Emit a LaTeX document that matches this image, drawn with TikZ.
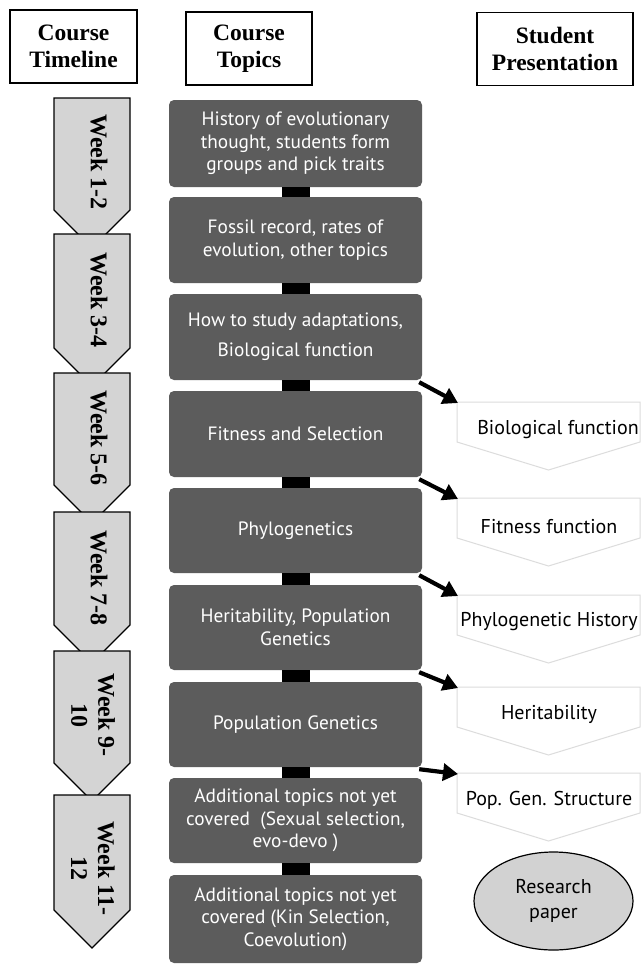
\documentclass[tikz,border=0pt]{standalone}
\usepackage{fontspec}
\setmainfont{Liberation Serif}
\newfontfamily\topicfont{PT Sans}
\usetikzlibrary{arrows.meta,shapes.geometric}
\definecolor{topicgray}{HTML}{5C5C5C}
\definecolor{weekgray}{HTML}{D4D4D4}
\definecolor{paperfill}{HTML}{D2D2D2}
\definecolor{presline}{HTML}{DCDCDC}
\begin{document}
\begin{tikzpicture}[x=1pt,y=-1pt,
  hdr/.style={draw=black, line width=1.8pt, fill=white, minimum height=73pt,
    align=center, inner sep=0pt, font=\fontsize{23.5}{27}\selectfont\bfseries},
  topic/.style={fill=topicgray, rounded corners=5pt, minimum width=253pt,
    minimum height=86pt, text=white, align=center, inner sep=0pt,
    font=\topicfont\fontsize{19.3}{22.5}\selectfont},
  weekbox/.style={draw=black, line width=1.3pt, fill=weekgray},
  weektext/.style={rotate=-90, align=center, inner sep=0pt,
    font=\fontsize{24}{27}\selectfont\bfseries},
  presbox/.style={draw=presline, line width=1pt, fill=white},
  prestext/.style={inner sep=0pt, font=\topicfont\fontsize{20}{24}\selectfont},
  linkbar/.style={fill=black},
  pointer/.style={line width=4.2pt, -{Triangle[length=15pt,width=17pt]}}]
\useasboundingbox (0,0) rectangle (641,969);
\fill[white] (0,0) rectangle (641,969);

% headers
\node[hdr, minimum width=127pt] (h1) at (73.5,46.5) {Course\\Timeline};
\node[hdr, minimum width=126pt] (h2) at (249,48.5) {Course\\Topics};
\node[hdr, minimum width=156pt] (h3) at (555,49) {Student\\Presentation};

% timeline chevrons
\foreach \t/\b in {98/112, 234/114, 373/112, 512/113, 651/112, 795/115}{
  \draw[weekbox] (54,\t) -- (130,\t) -- (130,\t+\b) -- (92,\t+\b+38) -- (54,\t+\b) -- cycle;
}
\node[weektext] (w1) at (99,162) {Week 1-2};
\node[weektext] (w2) at (99,300) {Week 3-4};
\node[weektext] (w3) at (99,438) {Week 5-6};
\node[weektext] (w4) at (99,578) {Week 7-8};
\node[weektext] (w5) at (93,715) {Week 9-\\10};
\node[weektext] (w6) at (93,868) {Week 11-\\12};

% topics
\node[topic, minimum height=87pt] (t1) at (295.5,143.5) {History of evolutionary\\thought, students form\\groups and pick traits};
\node[topic] (t2) at (295.5,240) {Fossil record, rates of\\evolution, other topics};
\node[topic, font=\topicfont\fontsize{19.3}{30}\selectfont] (t3) at (295.5,337) {How to study adaptations,\\Biological function};
\node[topic] (t4) at (295.5,434) {Fitness and Selection};
\node[topic, minimum height=85pt] (t5) at (295.5,530.5) {Phylogenetics};
\node[topic, minimum height=85pt] (t6) at (295.5,627.5) {Heritability, Population\\Genetics};
\node[topic, minimum height=85pt] (t7) at (295.5,724.5) {Population Genetics};
\node[topic, minimum height=85pt] (t8) at (295.5,820.5) {Additional topics not yet\\covered\ \ (Sexual selection,\\evo-devo\ )};
\node[topic, minimum height=88pt] (t9) at (295.5,919) {Additional topics not yet\\covered (Kin Selection,\\Coevolution)};

% links between topics
\foreach \a/\c in {t1/t2, t2/t3, t3/t4, t4/t5, t5/t6, t6/t7, t7/t8, t8/t9}{
  \fill[linkbar] ([xshift=-13.5pt]\a.south) rectangle ([xshift=14.5pt]\c.north);
}

% presentation shapes
\foreach \T in {402,498,595,687,773}{
  \draw[presbox] (457,\T) -- (640,\T) -- (640,\T+40) -- (548.5,\T+68) -- (457,\T+40) -- cycle;
}
\coordinate (p1) at (458,403);
\coordinate (p2) at (458,499);
\coordinate (p3) at (458,596);
\coordinate (p4) at (458,688);
\coordinate (p5) at (458,774);
\node[prestext] (s1) at (558,430) {Biological function};
\node[prestext] (s2) at (549,527) {Fitness function};
\node[prestext] (s3) at (549,622) {Phylogenetic History};
\node[prestext] (s4) at (549,714) {Heritability};
\node[prestext] (s5) at (549,800) {Pop. Gen. Structure};

\node[ellipse, draw=black, line width=1.2pt, fill=paperfill, minimum width=159pt,
  minimum height=98pt, align=center, inner sep=0pt,
  font=\topicfont\fontsize{20}{25}\selectfont] (rp) at (553.5,901) {Research\\paper};

% arrows
\draw[pointer] ([xshift=-3pt,yshift=-2pt]t3.south east) -- (p1);
\draw[pointer] ([xshift=-3pt,yshift=-2pt]t4.south east) -- (p2);
\draw[pointer] ([xshift=-3pt,yshift=-2pt]t5.south east) -- (p3);
\draw[pointer] ([xshift=-3pt,yshift=-2pt]t6.south east) -- (p4);
\draw[pointer] ([xshift=-3pt,yshift=-2pt]t7.south east) -- (p5);
\end{tikzpicture}
\end{document}
